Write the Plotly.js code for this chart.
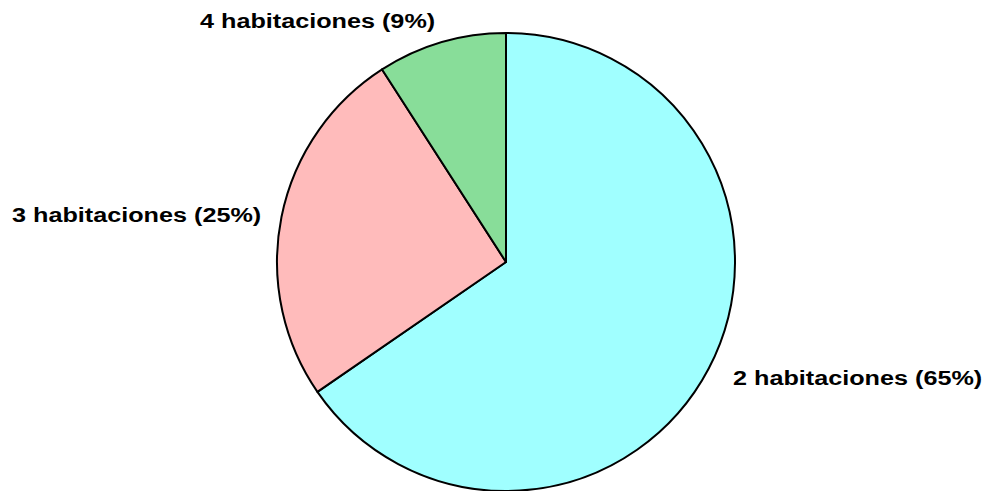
<!DOCTYPE html>
<html>
<head>
<meta charset="utf-8">
<script src="https://cdn.plot.ly/plotly-3.0.1.min.js"></script>
<style>
html,body{margin:0;padding:0;background:#fff;}
#chart{width:987px;height:491px;}
.annotation-text{transform-box:fill-box;transform-origin:center;transform:scaleX(1.2);}
</style>
</head>
<body>
<div id="chart"></div>
<script>
const categories = ["2 habitaciones", "3 habitaciones", "4 habitaciones"];
const shares = [65.4, 25.5, 9.1];
const shareLabels = ["65%", "25%", "9%"];
const sliceColors = ["#A0FFFF", "#FFBBBB", "#88DD99"];

// label anchor positions (pixels in the 987x491 frame)
const labelPos = [[857, 378], [136, 215], [317, 21]];

const W = 987, H = 491;
const annotations = categories.map((c, i) => ({
  text: "<b>" + c + " (" + shareLabels[i] + ")</b>",
  x: labelPos[i][0] / W,
  y: 1 - labelPos[i][1] / H,
  xref: "paper", yref: "paper",
  showarrow: false,
  xanchor: "center", yanchor: "middle",
  font: {family: "Liberation Sans, Arial, sans-serif", size: 21, color: "#000"}
}));

const data = [{
  type: "pie",
  labels: categories,
  values: shares,
  sort: false,
  direction: "clockwise",
  rotation: 0,
  textinfo: "none",
  hoverinfo: "label+percent",
  marker: {colors: sliceColors, line: {color: "#000", width: 2}},
  domain: {x: [(506 - 229) / W, (506 + 229) / W], y: [0, 1 - (262 - 229) / H]}
}];

const layout = {
  width: W, height: H,
  margin: {l: 0, r: 0, t: 0, b: 0},
  paper_bgcolor: "#fff",
  showlegend: false,
  annotations: annotations
};

Plotly.newPlot("chart", data, layout, {displayModeBar: false});
</script>
</body>
</html>
